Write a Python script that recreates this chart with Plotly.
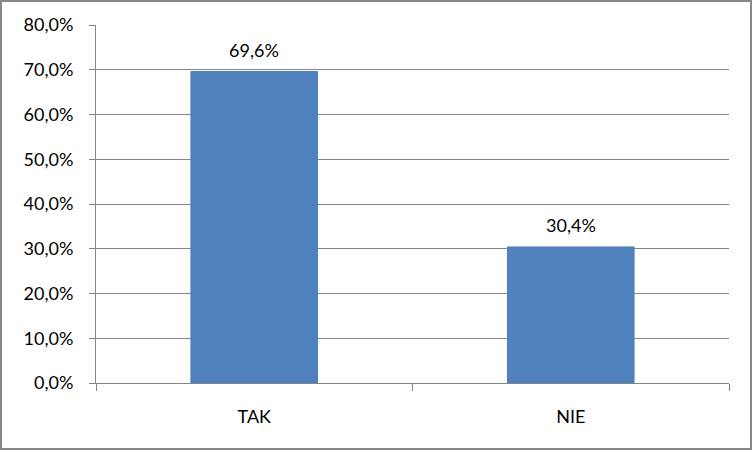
import plotly.graph_objects as go

categories = ["TAK", "NIE"]
values = [0.696, 0.304]
tick_vals = [0, 0.1, 0.2, 0.3, 0.4, 0.5, 0.6, 0.7, 0.8]
value_labels = [f"{v * 100:.1f}%".replace(".", ",") for v in values]

W, H = 753, 451
ml, mr, mt, mb = 96, 24, 25, 68
pw, ph = W - ml - mr, H - mt - mb
FONT = "Lato, Open Sans, sans-serif"
FS = 18

fig = go.Figure()
fig.add_trace(go.Bar(
    x=categories, y=values,
    marker=dict(color="#4F81BD", line=dict(color="#4A7EBB", width=1)),
    hoverinfo="skip",
))

for c, v, t in zip(categories, values, value_labels):
    fig.add_annotation(
        x=c, y=v, text=t, showarrow=False, yanchor="bottom", yshift=9,
        font=dict(size=FS, color="#000000", family=FONT),
    )

fig.update_layout(
    width=W, height=H,
    margin=dict(l=ml, r=mr, t=mt, b=mb, autoexpand=False),
    paper_bgcolor="white", plot_bgcolor="white",
    separators=",.",
    bargap=0.6,
    showlegend=False,
    font=dict(family=FONT, size=FS, color="#000000"),
    xaxis=dict(
        tickson="boundaries", ticks="outside", ticklen=7, tickcolor="#868686",
        showline=True, linecolor="#868686", linewidth=1,
        showgrid=False, tickfont=dict(size=FS), ticklabelstandoff=17,
        automargin=False,
    ),
    yaxis=dict(
        range=[0, 0.8], tickvals=tick_vals, tickformat=".1%",
        ticks="outside", ticklen=6, tickcolor="#868686",
        showline=True, linecolor="#868686", linewidth=1,
        showgrid=True, gridcolor="#868686", gridwidth=1,
        zeroline=False, tickfont=dict(size=FS), ticklabelstandoff=12,
        automargin=False,
    ),
    shapes=[dict(
        type="rect", xref="paper", yref="paper",
        x0=(1 - ml) / pw, x1=(751 - ml) / pw,
        y0=-(449 - mt - ph) / ph, y1=1 + (mt - 1) / ph,
        line=dict(color="#888888", width=2), fillcolor="rgba(0,0,0,0)",
        layer="above",
    )],
)

fig.write_html(
    "out.html",
    config={"displayModeBar": False},
    post_script="document.body.style.margin='0';document.body.style.overflow='hidden';",
)
